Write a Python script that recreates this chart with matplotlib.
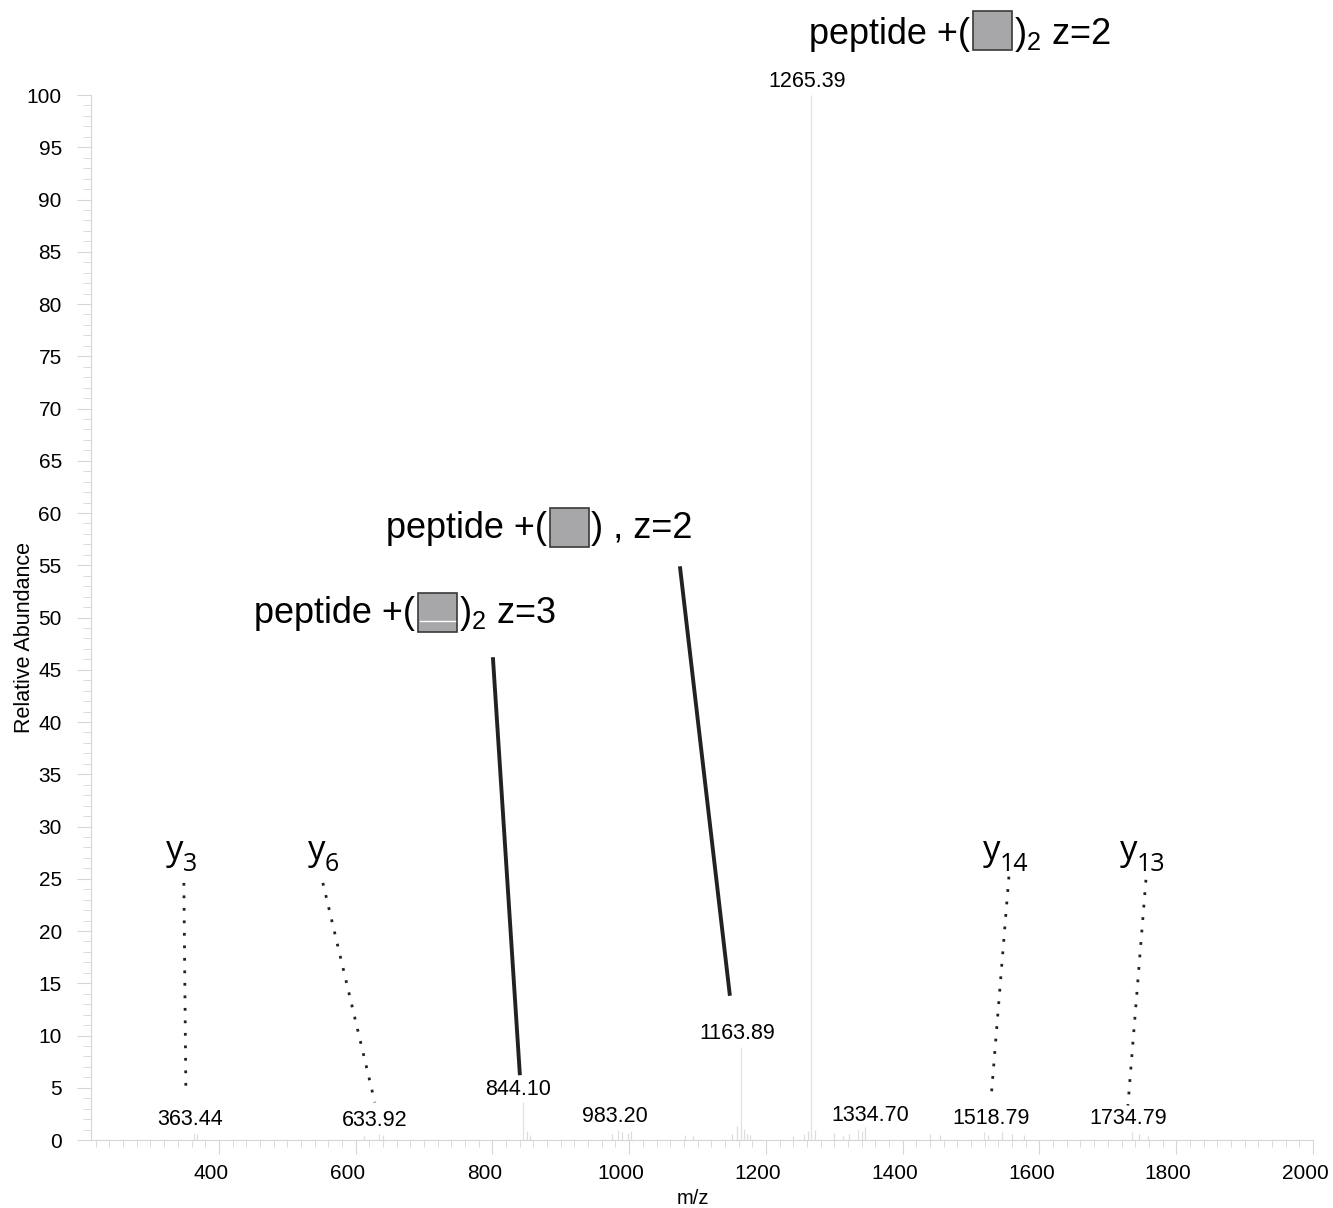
import numpy as np
import matplotlib
matplotlib.use('Agg')
import matplotlib.pyplot as plt
import matplotlib.transforms as mtransforms
from matplotlib.patches import Rectangle
from matplotlib.ticker import MultipleLocator

plt.rcParams['font.family'] = ['Liberation Sans', 'DejaVu Sans']
plt.rcParams['mathtext.default'] = 'regular'

# labelled peaks (m/z, relative abundance)
peak_mz = [363.44, 633.92, 844.10, 983.20, 1163.89, 1265.39, 1334.70, 1518.79, 1734.79]
peak_int = [0.7, 0.6, 3.6, 1.0, 8.9, 100.0, 1.1, 0.8, 0.8]
label_shift = [-4, -4, -5, -3, -4, -4, 12, 7, -3]   # px, as placed in the original

# small unlabelled peaks near the baseline
minor_mz = [368, 640, 612, 850, 855, 975, 990, 998, 1003, 1082, 1093, 1150, 1158, 1168,
            1172, 1177, 1240, 1256, 1262, 1272, 1300, 1312, 1322, 1340, 1345, 1440, 1455,
            1525, 1545, 1560, 1578, 1745, 1758]
minor_int = [0.6, 0.5, 0.4, 0.9, 0.5, 0.6, 0.8, 0.7, 0.9, 0.5, 0.4, 0.6, 1.3, 1.1,
             0.6, 0.5, 0.4, 0.6, 0.9, 1.0, 0.7, 0.4, 0.6, 0.9, 1.2, 0.6, 0.5,
             0.5, 0.8, 0.6, 0.5, 0.6, 0.4]

# y-ion annotations: name, label position, dotted connector ends
ion_names = ['3', '6', '14', '13']
ion_label_x = [347.4, 555.0, 1542.2, 1742.5]
ion_x0 = [348.8, 552.1, 1555.3, 1755.7]
ion_y0 = [24.6, 24.6, 25.2, 24.9]
ion_x1 = [351.7, 628.1, 1529.0, 1729.3]
ion_y1 = [5.0, 3.6, 3.8, 3.3]

# solid connectors from the precursor labels to their peaks
pep_x0 = [800.7, 1074.2]
pep_y0 = [46.2, 54.9]
pep_x1 = [840.2, 1147.3]
pep_y1 = [6.2, 13.8]

W, H = 1333, 1208
fig = plt.figure(figsize=(W / 100, H / 100), dpi=100)
ax = fig.add_axes([91 / W, 1 - 1140 / H, (1313 - 91) / W, (1140 - 95) / H])

light = '#d6d6d6'
ax.vlines(minor_mz, 0, minor_int, color='#dcdcdc', lw=0.9)
ax.vlines(peak_mz, 0, peak_int, color='#e0e0e0', lw=0.9)
for mz, h, dx in zip(peak_mz, peak_int, label_shift):
    ax.annotate(f'{mz:.2f}', (mz, h), xytext=(dx * 0.72, 2), textcoords='offset points',
                ha='center', va='bottom', fontsize=15.5)

ax.set_xlim(213, 2000)
ax.set_ylim(0, 100)
ax.set_xticks(range(400, 2001, 200))
ax.set_yticks(range(0, 101, 5))
ax.xaxis.set_minor_locator(MultipleLocator(20))
ax.yaxis.set_minor_locator(MultipleLocator(1))
ax.tick_params(which='both', color=light, labelsize=15)
ax.tick_params(axis='x', which='major', length=10, pad=7)
ax.tick_params(axis='x', which='minor', length=5)
ax.tick_params(axis='y', which='major', length=10, pad=11)
ax.tick_params(axis='y', which='minor', length=6)
for s in ['top', 'right']:
    ax.spines[s].set_visible(False)
for s in ['left', 'bottom']:
    ax.spines[s].set_color(light)

# x tick labels sit a little left of their ticks in the original
shift = mtransforms.ScaledTranslation(-8 / 100, 0, fig.dpi_scale_trans)
for lab in ax.get_xticklabels():
    lab.set_transform(lab.get_transform() + shift)

ax.set_xlabel('m/z', fontsize=14.5)
ax.xaxis.set_label_coords(0.4926, -0.047)
ax.set_ylabel('Relative Abundance', fontsize=15.5)
ax.yaxis.set_label_coords(-0.046, 0.481)

# connectors
for x0, y0, x1, y1 in zip(ion_x0, ion_y0, ion_x1, ion_y1):
    ax.plot([x0, x1], [y0, y1], color='#222222', lw=2, ls=(0, (1, 3.5)))
for x0, y0, x1, y1 in zip(pep_x0, pep_y0, pep_x1, pep_y1):
    ax.plot([x0, x1], [y0, y1], color='#222222', lw=2.8, solid_capstyle='butt')

ion_font = ['Open Sans', 'DejaVu Sans']
for n, lx in zip(ion_names, ion_label_x):
    ax.text(lx, 26.8, 'y', ha='right', va='baseline', fontsize=25, family=ion_font)
    ax.text(lx, 25.7, n, ha='left', va='baseline', fontsize=18, family=ion_font)


# precursor labels with the grey glycan square (pixel positions from the top)
def pep_label(left_of_sq, top_of_sq, base, before, after, white_line=False):
    size = 39
    fy = lambda py: 1 - py / H
    fig.text((left_of_sq - 3) / W, fy(base), before, ha='right', va='baseline', fontsize=26)
    fig.text((left_of_sq + size + 2) / W, fy(base), after, ha='left', va='baseline', fontsize=26)
    fig.patches.append(Rectangle((left_of_sq / W, fy(top_of_sq + size)), size / W, size / H,
                                 transform=fig.transFigure, facecolor='#a7a7aa',
                                 edgecolor='#3a3a3a', lw=1.2))
    if white_line:
        fig.lines.append(plt.Line2D([(left_of_sq + 2) / W, (left_of_sq + size - 2) / W],
                                    [fy(top_of_sq + 28)] * 2, transform=fig.transFigure,
                                    color='white', lw=1))


pep_label(973, 11, 44, 'peptide +(', '$)_2$ z=2')
pep_label(550, 508, 538, 'peptide +(', ') , z=2')
pep_label(418, 593, 623, 'peptide +(', '$)_2$ z=3', white_line=True)

fig.savefig('out.png', dpi=100)
